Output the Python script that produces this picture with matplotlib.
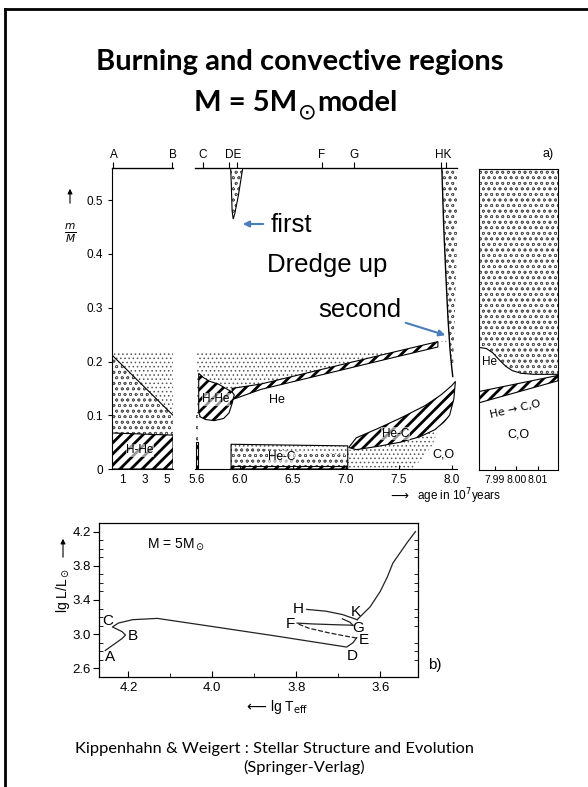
import numpy as np
import matplotlib
matplotlib.use("Agg")
import matplotlib.pyplot as plt
from matplotlib.lines import Line2D
from matplotlib.patches import FancyArrowPatch

W, H = 588, 787

# ---- panel a) left part: central hydrogen burning (age in 1e7 yr, m/M)
ms_age = [0.05, 5.6]
ms_dot_top = [0.218, 0.218]
ms_conv_top = [0.212, 0.100]
ms_hhe_top = [0.067, 0.063]

# ---- panel a) middle part
dredge1_x = [5.916, 6.03, 5.99, 5.955, 5.94, 5.93, 5.922]
dredge1_y = [0.56, 0.56, 0.51, 0.475, 0.465, 0.48, 0.53]

strip_x = [5.585, 5.612]
strip_hatch_top = 0.05
strip_conv_top = 0.10

blob_x = [5.615, 5.66, 5.72, 5.80, 5.87, 5.93, 5.95, 5.93, 5.90, 5.85, 5.76, 5.68, 5.63, 5.615]
blob_y = [0.178, 0.170, 0.163, 0.158, 0.150, 0.143, 0.138, 0.122, 0.104, 0.094, 0.090, 0.092, 0.097, 0.105]

hshell_x = [5.93, 6.2, 6.6, 7.0, 7.4, 7.87]
hshell_lo = [0.129, 0.148, 0.167, 0.186, 0.205, 0.227]
hshell_hi = [0.150, 0.158, 0.177, 0.196, 0.215, 0.237]

dot2_top_x = [5.6, 7.7, 7.95]
dot2_top_y = [0.218, 0.218, 0.242]

hec_x = [5.92, 7.02]
hec_dot_top = [0.046, 0.043]
hec_conv_top = [0.042, 0.026]
hec_burn_top = [0.006, 0.006]

lens_x = [7.03, 7.1, 7.3, 7.52, 7.75, 7.9, 8.0, 8.035, 8.02, 7.98, 7.93, 7.84, 7.7, 7.52, 7.3, 7.1]
lens_y = [0.040, 0.058, 0.075, 0.095, 0.118, 0.138, 0.155, 0.163, 0.13, 0.10, 0.088, 0.073, 0.06, 0.05, 0.042, 0.036]

dotlow_x = [7.02, 7.02, 7.1, 7.3, 7.52, 7.7, 7.84, 7.88, 7.82, 7.72, 7.62]
dotlow_y = [0.0, 0.036, 0.036, 0.042, 0.05, 0.06, 0.073, 0.078, 0.045, 0.018, 0.0]

env_x = [7.907, 7.925, 7.945, 7.965, 7.985, 8.0, 8.01, 8.015, 8.025, 8.04, 8.055, 8.06]
env_y = [0.56, 0.45, 0.36, 0.28, 0.22, 0.19, 0.172, 0.2, 0.26, 0.35, 0.45, 0.56]

# ---- panel a) right part (zoomed end of evolution)
p3_conv_x = [7.9826, 7.986, 7.989, 7.992, 7.995, 7.998, 8.002, 8.008, 8.0193]
p3_conv_y = [0.228, 0.226, 0.218, 0.205, 0.193, 0.185, 0.180, 0.178, 0.178]
p3_band_x = [7.9826, 8.0193]
p3_band_lo = [0.125, 0.166]
p3_band_hi = [0.146, 0.176]

top_ticks_1 = [0.18, 5.55]
top_labels_1 = {"A": 0.18, "B": 5.55}
top_ticks_2 = [5.655, 5.90, 5.98, 6.776, 7.075, 7.898, 7.944]
top_labels_2 = {"C": 5.655, "DE": 5.94, "F": 6.776, "G": 7.075, "HK": 7.921}
ticks_1 = [1, 3, 5]
ticks_2 = [5.6, 6.0, 6.5, 7.0, 7.5, 8.0]
ticks_3 = [7.99, 8.00, 8.01]
mm_ticks = [0, 0.1, 0.2, 0.3, 0.4, 0.5]

# ---- panel b) HR diagram (lg Teff, lg L/Lsun)
track1_t = [4.255, 4.235, 4.215, 4.207, 4.215, 4.238, 4.224, 4.19, 4.131, 4.0, 3.85, 3.68, 3.665, 3.656]
track1_l = [2.81, 2.88, 2.95, 2.99, 3.03, 3.085, 3.13, 3.17, 3.185, 3.09, 2.98, 2.85, 2.90, 2.96]
loop_ef_t = [3.656, 3.69, 3.726, 3.77, 3.798]
loop_ef_l = [2.955, 2.985, 3.02, 3.07, 3.125]
loop_fg_t = [3.798, 3.76, 3.70, 3.665]
loop_fg_l = [3.13, 3.12, 3.11, 3.105]
loop_gh_t = [3.665, 3.672, 3.69]
loop_gh_l = [3.105, 3.14, 3.18]
loop_hk_t = [3.775, 3.73, 3.69, 3.655]
loop_hk_l = [3.29, 3.27, 3.23, 3.17]
giant_t = [3.655, 3.624, 3.60, 3.583, 3.57, 3.553, 3.536, 3.516]
giant_l = [3.17, 3.32, 3.5, 3.67, 3.83, 3.95, 4.07, 4.2]
hr_points = {"A": (4.243, 2.73), "B": (4.19, 2.98), "C": (4.248, 3.15), "D": (3.667, 2.74),
             "E": (3.64, 2.93), "F": (3.814, 3.12), "G": (3.652, 3.07), "H": (3.795, 3.29),
             "K": (3.657, 3.26)}

plt.rcParams["font.family"] = ["Liberation Sans", "DejaVu Sans"]
SLIDE = ["Lato", "DejaVu Sans"]


def fx(px):
    return px / W


def fy(py):
    return 1 - py / H


def set_hlw(p, lw):
    if hasattr(p, "set_hatch_linewidth"):
        p.set_hatch_linewidth(lw)


def region(ax, xs, ys, kind):
    """Fill a polygon with one of the three textures of the diagram."""
    if kind == "burn":
        p = ax.fill(xs, ys, facecolor="white", edgecolor="black", hatch="///", linewidth=0)[0]
        set_hlw(p, 2.0)
        ax.fill(xs, ys, facecolor="none", edgecolor="black", linewidth=0.8)
    elif kind == "conv":
        p = ax.fill(xs, ys, facecolor="white", edgecolor="#555555", hatch="ooo", linewidth=0)[0]
        set_hlw(p, 0.5)
    else:
        p = ax.fill(xs, ys, facecolor="white", edgecolor="#555555", hatch="....", linewidth=0)[0]
        set_hlw(p, 0.6)
    return p


def band(ax, x, lo, hi, kind):
    x = list(x)
    return region(ax, x + x[::-1], list(lo) + list(hi)[::-1], kind)


def arrow(p0, p1, color="black", lw=0.8, scale=7):
    fig.add_artist(FancyArrowPatch((fx(p0[0]), fy(p0[1])), (fx(p1[0]), fy(p1[1])),
                                   arrowstyle="-|>", mutation_scale=scale, color=color, lw=lw))


fig = plt.figure(figsize=(W / 100, H / 100), dpi=100)

# slide frame (only top and left edge visible)
fig.add_artist(Line2D([fx(5), fx(5)], [fy(9), 0], color="black", lw=2))
fig.add_artist(Line2D([fx(5), 1], [fy(9), fy(9)], color="black", lw=2))

fig.text(fx(299.5), fy(62), "Burning and convective regions", ha="center", va="center",
         fontsize=21, fontweight="bold", family=SLIDE)
fig.text(fx(297), fy(103), "M = 5M", ha="right", va="center",
         fontsize=21, fontweight="bold", family=SLIDE)
fig.text(fx(307), fy(112), "\u2299", ha="center", va="center", fontsize=16, family="DejaVu Sans")
fig.text(fx(317), fy(103), "model", ha="left", va="center",
         fontsize=21, fontweight="bold", family=SLIDE)

ax1 = fig.add_axes([fx(112), fy(469), (173 - 112) / W, (469 - 168) / H])
ax2 = fig.add_axes([fx(195), fy(469), (457 - 195) / W, (469 - 168) / H])
ax3 = fig.add_axes([fx(479), fy(470), (558 - 479) / W, (470 - 169) / H])
ax4 = fig.add_axes([fx(99), fy(677), (418 - 99) / W, (677 - 523) / H])

for ax in (ax1, ax2, ax3):
    ax.set_ylim(0, 0.56)
    ax.tick_params(direction="in", length=3, labelsize=8.5, width=0.8)
ax1.set_xlim(0.05, 5.6)
ax2.set_xlim(5.58, 8.05)
ax3.set_xlim(7.9826, 8.0193)

lbl_box = dict(facecolor="white", edgecolor="none", pad=0.3, alpha=0.6)

# --- left part
band(ax1, ms_age, [0, 0], ms_dot_top, "dot")
band(ax1, ms_age, [0, 0], ms_conv_top, "conv")
ax1.plot(ms_age, ms_conv_top, color="black", lw=0.8)
band(ax1, ms_age, [0, 0], ms_hhe_top, "burn")
ax1.text(2.6, 0.035, "H-He", ha="center", va="center", fontsize=8.5, bbox=lbl_box)

# --- middle part
dot2_x = dot2_top_x + [7.95] + hshell_x[::-1] + [5.6]
dot2_y = dot2_top_y + [0.237] + hshell_hi[::-1] + [0.09]
region(ax2, dot2_x, dot2_y, "dot")
band(ax2, strip_x, [0, 0], [strip_conv_top] * 2, "conv")
band(ax2, strip_x, [0, 0], [strip_hatch_top] * 2, "burn")
band(ax2, hshell_x, hshell_lo, hshell_hi, "burn")
region(ax2, blob_x, blob_y, "burn")
ax2.text(5.775, 0.13, "H-He", ha="center", va="center", fontsize=8.5, bbox=lbl_box)
ax2.text(6.35, 0.128, "He", ha="center", va="center", fontsize=9)

band(ax2, hec_x, [0, 0], hec_dot_top, "dot")
band(ax2, hec_x, [0, 0], hec_conv_top, "conv")
ax2.plot(hec_x + hec_x[::-1] + hec_x[:1], [0, 0] + hec_dot_top[::-1] + [0], color="black", lw=0.8)
band(ax2, hec_x, [0, 0], hec_burn_top, "burn")
ax2.text(6.4, 0.022, "He-C", ha="center", va="center", fontsize=8.5, bbox=lbl_box)

region(ax2, dotlow_x, dotlow_y, "dot")
region(ax2, lens_x, lens_y, "burn")
ax2.text(7.47, 0.066, "He-C", ha="center", va="center", fontsize=8.5, bbox=lbl_box)
ax2.text(7.92, 0.027, "C,O", ha="center", va="center", fontsize=9)

region(ax2, dredge1_x, dredge1_y, "conv")
ax2.fill(dredge1_x, dredge1_y, facecolor="none", edgecolor="black", lw=0.8)
region(ax2, env_x, env_y, "conv")
ax2.plot(env_x[:7], env_y[:7], color="black", lw=1.0)

# --- right part
p = ax3.fill_between(p3_conv_x, p3_conv_y, 0.56, facecolor="white", edgecolor="#555555",
                     hatch="ooo", linewidth=0)
set_hlw(p, 0.5)
ax3.plot(p3_conv_x, p3_conv_y, color="black", lw=0.8)
band(ax3, p3_band_x, p3_band_lo, p3_band_hi, "burn")
ax3.text(7.9875, 0.2, "He", ha="center", va="center", fontsize=8.5)
ax3.text(7.9995, 0.113, "He \u2192 C,O", ha="center", va="center", fontsize=8, rotation=13,
         family="DejaVu Sans")
ax3.text(8.001, 0.066, "C,O", ha="center", va="center", fontsize=9)
ax3.text(0.87, 1.03, "a)", transform=ax3.transAxes, ha="center", va="bottom", fontsize=9)

# spines, ticks
ax1.spines["right"].set_visible(False)
ax2.spines["left"].set_visible(False)
ax2.spines["right"].set_visible(False)
ax1.set_yticks(mm_ticks)
ax1.set_yticklabels(["0", "0.1", "0.2", "0.3", "0.4", "0.5"])
ax1.tick_params(axis="y", direction="out", length=3)
ax2.set_yticks([])
ax3.set_yticks([])
ax1.set_xticks(ticks_1)
ax2.set_xticks(ticks_2)
ax2.set_xticklabels(["5.6", "6.0", "6.5", "7.0", "7.5", "8.0"])
ax3.set_xticks(ticks_3)
ax3.set_xticklabels(["7.99", "8.00", "8.01"], fontsize=7.5)
for ax, ticks, letters in ((ax1, top_ticks_1, top_labels_1), (ax2, top_ticks_2, top_labels_2)):
    sec = ax.secondary_xaxis("top")
    sec.set_xticks(ticks)
    sec.set_xticklabels([""] * len(ticks))
    sec.tick_params(direction="out", length=4, pad=1, width=0.8)
    sec.spines["top"].set_linewidth(0.9)
    for name, x in letters.items():
        ax.text(x, 1.022, name, transform=ax.get_xaxis_transform(), ha="center",
                va="bottom", fontsize=8.5)

fig.text(fx(70), fy(233), r"$\frac{m}{M}$", ha="center", va="center", fontsize=11)
arrow((70, 206), (70, 186))
fig.text(fx(390), fy(496), "\u27f6", ha="left", va="center", fontsize=9, family="DejaVu Sans")
fig.text(fx(417), fy(496), "age in 10$^7$years", ha="left", va="center", fontsize=8.5)

# annotations
fig.text(fx(271), fy(225), "first", ha="left", va="center", fontsize=18.5)
fig.text(fx(267), fy(265), "Dredge up", ha="left", va="center", fontsize=18.5)
fig.text(fx(318), fy(310), "second", ha="left", va="center", fontsize=18.5)
arrow((266, 224), (240, 224), color="#4a7ebb", lw=1.5, scale=9)
arrow((403, 322), (448, 336), color="#4a7ebb", lw=1.5, scale=9)

# --- HR diagram
ax4.set_xlim(4.27, 3.51)
ax4.set_ylim(2.5, 4.3)
ax4.plot(track1_t, track1_l, color="#222222", lw=0.9)
ax4.plot(loop_ef_t, loop_ef_l, color="#222222", lw=0.9, ls=(0, (4, 1.5)))
ax4.plot(loop_fg_t, loop_fg_l, color="#222222", lw=0.9)
ax4.plot(loop_gh_t, loop_gh_l, color="#222222", lw=0.9)
ax4.plot(loop_hk_t, loop_hk_l, color="#222222", lw=0.9)
ax4.plot(giant_t, giant_l, color="#222222", lw=0.9)
for name, (t, l) in hr_points.items():
    ax4.text(t, l, name, ha="center", va="center", fontsize=11)
ax4.text(4.155, 4.05, "M = 5M$_\\odot$", ha="left", va="center", fontsize=10)
ax4.set_xticks([4.2, 4.0, 3.8, 3.6])
ax4.set_xticklabels(["4.2", "4.0", "3.8", "3.6"])
ax4.set_xticks([4.1, 3.9, 3.7], minor=True)
ax4.set_yticks([2.6, 3.0, 3.4, 3.8, 4.2])
ax4.set_yticklabels(["2.6", "3.0", "3.4", "3.8", "4.2"])
ax4.set_yticks(np.arange(2.6, 4.25, 0.1), minor=True)
ax4.tick_params(direction="in", length=4, labelsize=9.5, width=0.8)
ax4.tick_params(which="minor", direction="in", length=3, right=True)
ax4.tick_params(axis="y", direction="out", pad=2)
ax4.text(1.03, 0.08, "b)", transform=ax4.transAxes, ha="left", va="center", fontsize=11)
fig.text(fx(63), fy(590), "lg L/L$_\\odot$", rotation=90, ha="center", va="center", fontsize=10)
arrow((63, 560), (63, 536))
fig.text(fx(246), fy(707), "\u27f5", ha="left", va="center", fontsize=10, family="DejaVu Sans")
fig.text(fx(270), fy(707), "lg T$_{\\mathrm{eff}}$", ha="left", va="center", fontsize=10)
for s in ax4.spines.values():
    s.set_linewidth(0.9)

fig.text(fx(75), fy(749), "Kippenhahn & Weigert : Stellar Structure and Evolution",
         ha="left", va="center", fontsize=11.8, family=SLIDE)
fig.text(fx(304), fy(767), "(Springer-Verlag)", ha="center", va="center",
         fontsize=11.8, family=SLIDE)

fig.savefig("out.png", dpi=100, facecolor="white")
